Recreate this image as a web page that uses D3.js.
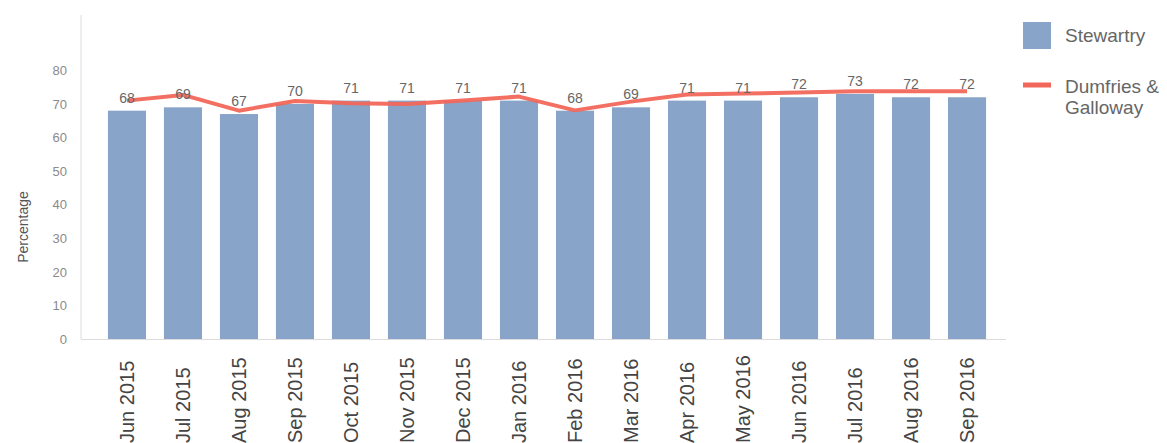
<!DOCTYPE html>
<html><head><meta charset="utf-8">
<script src="https://cdn.jsdelivr.net/npm/d3@7"></script>
<style>
html,body{margin:0;padding:0;background:#fff;}
svg{display:block;font-family:"Liberation Sans",Arial,sans-serif;}
</style></head>
<body>
<svg id="chart" width="1167" height="443"></svg>
<script>
const categories = ["Jun 2015","Jul 2015","Aug 2015","Sep 2015","Oct 2015","Nov 2015","Dec 2015","Jan 2016","Feb 2016","Mar 2016","Apr 2016","May 2016","Jun 2016","Jul 2016","Aug 2016","Sep 2016"];
const stewartry = [68,69,67,70,71,71,71,71,68,69,71,71,72,73,72,72];
const dumfriesGalloway = [71.0,72.7,68.0,70.9,70.2,70.0,71.0,72.2,68.1,70.7,72.8,73.1,73.4,73.8,73.8,73.8];
const yTicks = [0,10,20,30,40,50,60,70,80];
const seriesNames = ["Stewartry","Dumfries & Galloway"];

const svg = d3.select("#chart");
const barColor = "#88a4c9", lineColor = "#f1675a";

const x = d3.scaleBand().domain(categories).range([90, 1004]).paddingInner(0.32).paddingOuter(0.32);
const y = d3.scaleLinear().domain([0, 96.5]).range([339, 15]);

// axes lines
svg.append("line").attr("x1",81).attr("x2",81).attr("y1",y(96.5)).attr("y2",y(0)).attr("stroke","#dcdcdc").attr("stroke-width",1);
svg.append("line").attr("x1",81).attr("x2",1006).attr("y1",y(0)+0.5).attr("y2",y(0)+0.5).attr("stroke","#dcdcdc").attr("stroke-width",1);

// y ticks
const yAxis = d3.axisLeft(y).tickValues(yTicks).tickSize(0).tickPadding(0);
const gy = svg.append("g").attr("transform","translate(67,0)").call(yAxis);
gy.select(".domain").remove();
gy.selectAll("text").attr("fill","#8a8a8a").style("font-size","13px").style("font-family","Liberation Sans, Arial, sans-serif");

// y title
svg.append("text").attr("transform","translate(28,227) rotate(-90)").attr("text-anchor","middle")
  .attr("fill","#555").style("font-size","14px").text("Percentage");

// bars
svg.append("g").selectAll("rect").data(categories).join("rect")
  .attr("x", d => x(d)).attr("width", x.bandwidth())
  .attr("y", (d,i) => y(stewartry[i])).attr("height", (d,i) => y(0) - y(stewartry[i]))
  .attr("fill", barColor);

// line
const line = d3.line().x((d,i) => x(categories[i]) + x.bandwidth()/2).y(d => y(d));
svg.append("path").datum(dumfriesGalloway).attr("d", line).attr("fill","none")
  .attr("stroke", lineColor).attr("stroke-width",4).attr("stroke-linejoin","round").attr("opacity",0.95);

// value labels
svg.append("g").selectAll("text").data(categories).join("text")
  .attr("x", d => x(d) + x.bandwidth()/2).attr("y", (d,i) => y(stewartry[i]) - 8)
  .attr("text-anchor","middle").attr("fill","#666").style("font-size","14px")
  .text((d,i) => stewartry[i]);

// x labels
svg.append("g").selectAll("text").data(categories).join("text")
  .attr("transform", d => `translate(${x(d) + x.bandwidth()/2 + 7},443) rotate(-90)`)
  .attr("text-anchor","start").attr("fill","#444").style("font-size","20px")
  .text(d => d);

// legend
const lg = svg.append("g");
lg.append("rect").attr("x",1023).attr("y",22).attr("width",28).attr("height",27).attr("fill",barColor);
lg.append("text").attr("x",1065).attr("y",42).attr("fill","#666").style("font-size","19px").text(seriesNames[0]);
lg.append("line").attr("x1",1023).attr("x2",1051).attr("y1",85).attr("y2",85).attr("stroke",lineColor).attr("stroke-width",5);
const t2 = lg.append("text").attr("x",1065).attr("y",93).attr("fill","#666").style("font-size","19px");
t2.append("tspan").attr("x",1065).text("Dumfries &");
t2.append("tspan").attr("x",1065).attr("dy",21).text("Galloway");
</script>
</body></html>
